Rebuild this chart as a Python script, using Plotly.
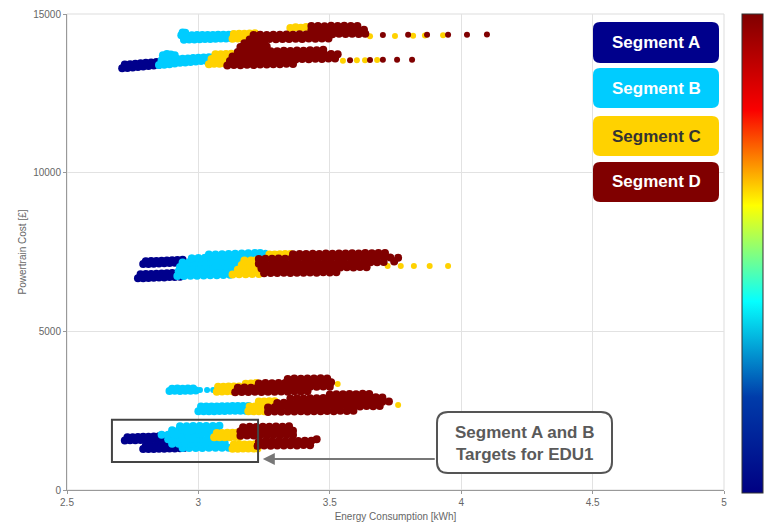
import plotly.graph_objects as go

# ---------------- data ----------------
seg_names = ["Segment A", "Segment B", "Segment C", "Segment D"]
seg_colors = ["#00008C", "#00CCFF", "#FFD200", "#800000"]

A_x = [
    2.710, 2.730, 2.750, 2.770, 2.790, 2.810, 2.830, 2.850,
    2.720, 2.740, 2.760, 2.780, 2.800, 2.820, 2.840,
    2.790, 2.810, 2.830, 2.850, 2.870, 2.890, 2.910, 2.930,
    2.800, 2.820, 2.840, 2.860, 2.880, 2.900, 2.920, 2.940,
    2.770, 2.790, 2.810, 2.830, 2.850, 2.870, 2.890, 2.910, 2.930,
    2.780, 2.800, 2.820, 2.840, 2.860, 2.880, 2.900, 2.920, 2.940,
    2.720, 2.740, 2.760, 2.780, 2.800, 2.820, 2.840, 2.860, 2.880,
    2.730, 2.750, 2.770, 2.790, 2.810, 2.830, 2.850, 2.870,
    2.790, 2.810, 2.830, 2.850, 2.870, 2.890, 2.910, 2.930, 2.945,
    2.800, 2.820, 2.840, 2.860, 2.880, 2.900, 2.920, 2.940,
]
A_y = [
    13290, 13300, 13315, 13330, 13345, 13360, 13380, 13400,
    13410, 13420, 13435, 13445, 13460, 13475, 13490,
    7120, 7125, 7130, 7140, 7145, 7150, 7160, 7165,
    7210, 7215, 7220, 7225, 7235, 7240, 7250, 7255,
    6670, 6675, 6680, 6690, 6695, 6700, 6710, 6715, 6720,
    6800, 6805, 6810, 6815, 6820, 6830, 6835, 6840, 6845,
    1560, 1565, 1570, 1575, 1580, 1590, 1595, 1600, 1605,
    1660, 1665, 1670, 1675, 1680, 1685, 1690, 1695,
    1290, 1290, 1295, 1300, 1300, 1305, 1310, 1315, 1320,
    1400, 1400, 1405, 1410, 1410, 1415, 1420, 1425,
]

B_x = [
    2.850, 2.870, 2.890, 2.910, 2.930, 2.950, 2.970, 2.990, 3.010, 3.030, 3.050,
    2.860, 2.880, 2.900, 2.920, 2.940, 2.960, 2.980, 3.000, 3.020, 3.040, 3.060,
    2.865, 2.880, 2.895, 2.910,
    2.945, 2.965, 2.985, 3.005, 3.025, 3.045, 3.065, 3.085, 3.105, 3.125,
    2.935, 2.955, 2.975, 2.995, 3.015, 3.035, 3.055, 3.075, 3.095, 3.115, 3.130,
    2.940, 2.950,
    2.920, 2.945, 2.970, 2.995, 3.020, 3.045, 3.070, 3.095, 3.120,
    2.925, 2.950, 2.975, 3.000, 3.025, 3.050, 3.075, 3.100, 3.125,
    2.930, 2.955, 2.980, 3.005, 3.030, 3.055, 3.080, 3.105, 3.130, 3.145,
    2.940, 2.965, 2.990, 3.015, 3.040, 3.065, 3.090, 3.115, 3.140, 3.155,
    2.975, 3.000, 3.025, 3.050, 3.075, 3.100, 3.125, 3.150, 3.175, 3.200, 3.220,
    3.040, 3.065, 3.090, 3.115, 3.140, 3.165, 3.190, 3.215, 3.235,
    2.890, 2.910, 2.930, 2.950, 2.970, 2.990,
    2.900, 2.920, 2.940, 2.960, 2.980,
    3.000, 3.020, 3.040, 3.060, 3.080, 3.100, 3.120, 3.140, 3.160, 3.180, 3.200,
    3.010, 3.030, 3.050, 3.070, 3.090, 3.110, 3.130, 3.150, 3.170, 3.190,
    2.940, 2.965, 2.990, 3.015, 3.040, 3.065, 3.090, 3.115,
    2.900, 2.925, 2.950, 2.975, 3.000, 3.025, 3.050, 3.075, 3.100,
    2.885, 2.910, 2.935, 2.960, 2.985, 3.010, 3.035, 3.060, 3.085,
    2.860, 2.885, 2.910, 2.935, 2.960, 2.985, 3.010, 3.035, 3.060, 3.080,
    2.900, 2.925, 2.950, 2.975, 3.000, 3.025, 3.050, 3.070,
    2.930, 2.955, 2.980, 3.005, 3.030, 3.055, 3.080,
]
B_y = [
    13390, 13400, 13420, 13440, 13460, 13470, 13490, 13500, 13520, 13530, 13550,
    13540, 13560, 13570, 13580, 13590, 13600, 13610, 13620, 13630, 13640, 13650,
    13700, 13740, 13720, 13700,
    14190, 14195, 14200, 14205, 14210, 14215, 14220, 14225, 14230, 14235,
    14330, 14330, 14330, 14335, 14335, 14340, 14340, 14345, 14345, 14350, 14350,
    14420, 14410,
    6740, 6745, 6750, 6755, 6760, 6765, 6770, 6775, 6780,
    6890, 6895, 6900, 6905, 6910, 6915, 6920, 6925, 6930,
    7030, 7035, 7040, 7045, 7050, 7055, 7060, 7065, 7070, 7075,
    7170, 7175, 7180, 7185, 7190, 7195, 7200, 7205, 7210, 7215,
    7300, 7310, 7320, 7330, 7335, 7340, 7345, 7350, 7360, 7365, 7370,
    7420, 7425, 7430, 7440, 7445, 7450, 7460, 7465, 7470,
    3120, 3125, 3120, 3130, 3125, 3135,
    3190, 3195, 3190, 3200, 3195,
    2480, 2480, 2485, 2485, 2490, 2490, 2495, 2495, 2500, 2500, 2505,
    2630, 2630, 2635, 2635, 2640, 2640, 2645, 2645, 2650, 2650,
    1320, 1320, 1325, 1325, 1330, 1330, 1335, 1335,
    1460, 1460, 1465, 1465, 1470, 1470, 1475, 1475, 1480,
    1600, 1600, 1605, 1605, 1610, 1610, 1615, 1615, 1620,
    1740, 1740, 1745, 1745, 1750, 1750, 1755, 1755, 1760, 1760,
    1880, 1880, 1885, 1885, 1890, 1890, 1895, 1895,
    2010, 2010, 2015, 2015, 2020, 2020, 2025,
]
# sparse isolated designs (tails)
B_tail_x = [3.255, 3.006, 3.033, 3.056]
B_tail_y = [7480, 3150, 3150, 3155]

C_x = [
    3.040, 3.060, 3.080, 3.100, 3.120,
    3.050, 3.070, 3.090, 3.110, 3.130,
    3.065, 3.085, 3.105, 3.125,
    3.130, 3.150, 3.170, 3.190, 3.210,
    3.135, 3.155, 3.175, 3.195, 3.215,
    3.350, 3.370, 3.390, 3.410,
    3.130, 3.155, 3.180, 3.205, 3.230,
    3.150, 3.175, 3.200, 3.225,
    3.165, 3.190, 3.215,
    3.175, 3.200, 3.220,
    3.270, 3.290, 3.310, 3.330, 3.350,
    3.275, 3.300, 3.325,
    3.070, 3.090, 3.110, 3.130, 3.150,
    3.075, 3.095, 3.115, 3.135, 3.155,
    3.180, 3.200, 3.220,
    3.190, 3.210, 3.230, 3.250,
    3.195, 3.215, 3.235, 3.255,
    3.230, 3.250, 3.270, 3.290,
    3.060, 3.080, 3.100, 3.120, 3.140, 3.155,
    3.070, 3.090, 3.110, 3.130, 3.150,
    3.130, 3.150, 3.170, 3.190, 3.210, 3.225,
    3.135, 3.155, 3.175, 3.195, 3.215,
]
C_y = [
    13420, 13430, 13430, 13440, 13440,
    13580, 13585, 13590, 13595, 13600,
    13730, 13735, 13740, 13745,
    14220, 14225, 14230, 14235, 14240,
    14370, 14375, 14380, 14385, 14390,
    14560, 14580, 14570, 14590,
    6790, 6795, 6800, 6805, 6810,
    6940, 6945, 6950, 6955,
    7090, 7095, 7100,
    7230, 7235, 7240,
    7420, 7425, 7430, 7435, 7440,
    7320, 7325, 7330,
    3100, 3105, 3110, 3110, 3115,
    3250, 3255, 3260, 3260, 3265,
    3350, 3360, 3370,
    2480, 2480, 2485, 2485,
    2630, 2630, 2635, 2635,
    2790, 2790, 2795, 2800,
    1660, 1660, 1665, 1665, 1670, 1670,
    1800, 1800, 1805, 1805, 1810,
    1300, 1300, 1305, 1305, 1310, 1310,
    1430, 1430, 1435, 1435, 1440,
]
C_tail_x = [3.653, 3.748, 3.817, 3.862, 3.931,
            3.550, 3.603, 3.634, 3.680,
            3.720, 3.770, 3.820, 3.880, 3.950,
            3.530, 3.760]
C_tail_y = [14300, 14310, 14315, 14320, 14330,
            13530, 13540, 13540, 13550,
            7060, 7060, 7060, 7055, 7055,
            3340, 2680]

D_x = [
    # top group, lower band
    3.110, 3.135, 3.160, 3.185, 3.210, 3.235, 3.260, 3.285, 3.310, 3.335, 3.360,
    3.120, 3.145, 3.170, 3.195, 3.220, 3.245, 3.270, 3.295, 3.320, 3.345, 3.370, 3.395, 3.420, 3.445, 3.470, 3.495, 3.520,
    3.130, 3.155, 3.180, 3.205, 3.230, 3.255, 3.280, 3.305, 3.330, 3.355, 3.380, 3.405, 3.430, 3.455, 3.480, 3.505, 3.530,
    3.150, 3.175, 3.200, 3.225, 3.250, 3.275, 3.300, 3.325, 3.350, 3.375, 3.400, 3.425, 3.450, 3.475,
    3.160, 3.185, 3.210, 3.235, 3.260,
    3.175, 3.200, 3.225, 3.250,
    # top group, upper band
    3.195, 3.220, 3.245, 3.270, 3.295, 3.320, 3.345, 3.370, 3.395, 3.420, 3.445, 3.470, 3.495,
    3.210, 3.235, 3.260, 3.285, 3.310, 3.335, 3.360, 3.385, 3.410, 3.435, 3.460, 3.485, 3.510, 3.535, 3.560, 3.585, 3.610, 3.635,
    3.430, 3.455, 3.480, 3.505, 3.530, 3.555, 3.580, 3.605, 3.630,
    3.430, 3.455, 3.480, 3.505, 3.530, 3.555, 3.580, 3.605,
    # middle group
    3.360, 3.385, 3.410, 3.435, 3.460, 3.485, 3.510, 3.535, 3.560, 3.585, 3.610, 3.635, 3.660, 3.685, 3.710,
    3.230, 3.255, 3.280, 3.305, 3.330, 3.355, 3.380, 3.405, 3.430, 3.455, 3.480, 3.505, 3.530, 3.555, 3.580, 3.605, 3.630, 3.655, 3.680, 3.705, 3.730,
    3.230, 3.255, 3.280, 3.305, 3.330, 3.355, 3.380, 3.405, 3.430, 3.455, 3.480, 3.505, 3.530, 3.555, 3.580, 3.605, 3.630, 3.655, 3.680, 3.705,
    3.240, 3.265, 3.290, 3.315, 3.340, 3.365, 3.390, 3.415, 3.440, 3.465, 3.490, 3.515, 3.540, 3.565, 3.590, 3.615, 3.640,
    3.250, 3.275, 3.300, 3.325, 3.350, 3.375, 3.400, 3.425, 3.450, 3.475, 3.500, 3.525,
    3.745, 3.760,
    # bottom group, row ~3200
    3.140, 3.165, 3.190, 3.215, 3.240, 3.265, 3.290, 3.315, 3.340, 3.365, 3.390, 3.415,
    3.150, 3.175, 3.200, 3.225, 3.250, 3.275, 3.300, 3.325, 3.350, 3.375, 3.400, 3.425, 3.450, 3.475, 3.500,
    3.230, 3.255, 3.280, 3.305, 3.330, 3.355, 3.380, 3.405, 3.430, 3.455, 3.480, 3.505,
    3.340, 3.365, 3.390, 3.415, 3.440, 3.465, 3.490,
    # bottom group, row ~2700
    3.265, 3.290, 3.315, 3.340, 3.365, 3.390, 3.415, 3.440, 3.465, 3.490, 3.515, 3.540, 3.565, 3.590,
    3.265, 3.290, 3.315, 3.340, 3.365, 3.390, 3.415, 3.440, 3.465, 3.490, 3.515, 3.540, 3.565, 3.590, 3.615, 3.640, 3.665, 3.690,
    3.300, 3.325, 3.350, 3.375, 3.400, 3.425, 3.450, 3.475, 3.500, 3.525, 3.550, 3.575, 3.600, 3.625, 3.650, 3.675, 3.700, 3.725,
    3.350, 3.375, 3.400, 3.425, 3.450, 3.475, 3.500, 3.525, 3.550, 3.575, 3.600, 3.625, 3.650, 3.675, 3.700,
    3.500, 3.525, 3.550, 3.575, 3.600, 3.625, 3.650,
    # bottom group, rows ~1300-2100
    3.160, 3.185, 3.210, 3.235, 3.260, 3.285, 3.310, 3.335, 3.360,
    3.160, 3.185, 3.210, 3.235, 3.260, 3.285, 3.310, 3.335, 3.360,
    3.170, 3.195, 3.220, 3.245, 3.270, 3.295, 3.320, 3.345,
    3.225, 3.250, 3.275, 3.300, 3.325, 3.350, 3.375, 3.400, 3.425,
    3.230, 3.255, 3.280, 3.305, 3.330, 3.355, 3.380, 3.405, 3.430,
    3.450,
]
D_y = [
    13380, 13390, 13385, 13400, 13395, 13410, 13405, 13420, 13415, 13430, 13425,
    13520, 13530, 13525, 13540, 13535, 13550, 13545, 13560, 13555, 13570, 13565, 13580, 13575, 13590, 13585, 13600, 13595,
    13660, 13670, 13665, 13680, 13675, 13690, 13685, 13700, 13695, 13710, 13705, 13720, 13715, 13730, 13725, 13740, 13735,
    13800, 13810, 13805, 13820, 13815, 13830, 13825, 13840, 13835, 13850, 13845, 13860, 13855, 13870,
    13960, 13970, 13965, 13980, 13975,
    14080, 14090, 14085, 14095,
    14200, 14205, 14200, 14210, 14205, 14215, 14210, 14220, 14215, 14225, 14220, 14230, 14225,
    14340, 14345, 14340, 14350, 14345, 14355, 14350, 14360, 14355, 14365, 14360, 14370, 14365, 14375, 14370, 14375, 14370, 14375,
    14490, 14495, 14490, 14500, 14495, 14505, 14500, 14505, 14500,
    14620, 14625, 14615, 14630, 14620, 14630, 14625, 14620,
    7430, 7440, 7435, 7445, 7440, 7450, 7445, 7455, 7450, 7460, 7455, 7465, 7460, 7470, 7465,
    7280, 7290, 7285, 7295, 7290, 7300, 7295, 7305, 7300, 7310, 7305, 7315, 7310, 7320, 7315, 7325, 7320, 7330, 7325, 7335, 7330,
    7130, 7140, 7135, 7145, 7140, 7150, 7145, 7155, 7150, 7160, 7155, 7165, 7160, 7170, 7165, 7175, 7170, 7180, 7175, 7185,
    6980, 6990, 6985, 6995, 6990, 7000, 6995, 7005, 7000, 7010, 7005, 7015, 7010, 7020, 7015, 7025, 7020,
    6830, 6840, 6835, 6845, 6840, 6850, 6845, 6855, 6850, 6860, 6855, 6865,
    7200, 7320,
    3080, 3090, 3085, 3095, 3090, 3100, 3095, 3105, 3100, 3110, 3105, 3115,
    3220, 3230, 3225, 3235, 3230, 3240, 3235, 3245, 3240, 3250, 3245, 3255, 3250, 3260, 3255,
    3360, 3370, 3365, 3375, 3370, 3380, 3375, 3385, 3380, 3390, 3385, 3395,
    3500, 3510, 3505, 3515, 3510, 3520, 3515,
    2460, 2470, 2465, 2475, 2470, 2480, 2475, 2485, 2480, 2490, 2485, 2495, 2490, 2500,
    2600, 2610, 2605, 2615, 2610, 2620, 2615, 2625, 2620, 2630, 2625, 2635, 2630, 2640, 2635, 2645, 2640, 2650,
    2740, 2750, 2745, 2755, 2750, 2760, 2755, 2765, 2760, 2770, 2765, 2775, 2770, 2780, 2775, 2785, 2780, 2790,
    2880, 2890, 2885, 2895, 2890, 2900, 2895, 2905, 2900, 2910, 2905, 2915, 2910, 2920, 2915,
    3010, 3020, 3015, 3025, 3020, 3030, 3025,
    1710, 1720, 1715, 1725, 1720, 1730, 1725, 1735, 1730,
    1850, 1860, 1855, 1865, 1860, 1870, 1865, 1875, 1870,
    1980, 1990, 1985, 1995, 1990, 2000, 1995, 2005,
    1390, 1400, 1395, 1405, 1400, 1410, 1405, 1415, 1410,
    1530, 1540, 1535, 1545, 1540, 1550, 1545, 1555, 1550,
    1600,
]
D_tail_x = [3.577, 3.653, 3.702, 3.756, 3.813,
            3.702, 3.798, 3.870, 3.950, 4.022, 4.098]
D_tail_y = [13545, 13550, 13555, 13560, 13560,
            14340, 14345, 14345, 14350, 14350, 14355]

x_ticks = [2.5, 3, 3.5, 4, 4.5, 5]
x_ticktext = ["2.5", "3", "3.5", "4", "4.5", "5"]
y_ticks = [0, 5000, 10000, 15000]
y_ticktext = ["0", "5000", "10000", "15000"]

series = [(A_x, A_y), (B_x, B_y), (C_x, C_y), (D_x, D_y)]
tails = [([], []), (B_tail_x, B_tail_y), (C_tail_x, C_tail_y), (D_tail_x, D_tail_y)]
for sx, sy in series + tails:
    assert len(sx) == len(sy), (len(sx), len(sy))

# ---------------- figure ----------------
W, H = 765, 525
ML, MR, MT, MB = 67, 41, 14, 35
PW, PH = W - ML - MR, H - MT - MB


def px(xp):
    return (xp - ML) / PW


def py(yp):
    return (H - MB - yp) / PH


def rounded(x0, y0, x1, y1, r):
    # pixel rectangle -> paper path with rounded corners
    X0, X1 = px(x0), px(x1)
    Y0, Y1 = py(y1), py(y0)
    rx, ry = r / PW, r / PH
    return (f"M {X0+rx},{Y0} L {X1-rx},{Y0} Q {X1},{Y0} {X1},{Y0+ry} "
            f"L {X1},{Y1-ry} Q {X1},{Y1} {X1-rx},{Y1} L {X0+rx},{Y1} "
            f"Q {X0},{Y1} {X0},{Y1-ry} L {X0},{Y0+ry} Q {X0},{Y0} {X0+rx},{Y0} Z")


FONT = "Liberation Sans, Arial, sans-serif"
fig = go.Figure()

for (sx, sy), (tx, ty), name, col in zip(series, tails, seg_names, seg_colors):
    fig.add_trace(go.Scatter(
        x=sx, y=sy, mode="markers", name=name, showlegend=False,
        marker=dict(size=8, color=col, line=dict(width=0)),
    ))
    if tx:
        fig.add_trace(go.Scatter(
            x=tx, y=ty, mode="markers", name=name, showlegend=False,
            marker=dict(size=6, color=col, line=dict(width=0)),
        ))

# colour bar (jet)
fig.add_trace(go.Scatter(
    x=[None], y=[None], mode="markers", showlegend=False, hoverinfo="skip",
    marker=dict(color=[0], cmin=0, cmax=1, colorscale="Jet", showscale=True,
                colorbar=dict(x=1.027, xanchor="left", xpad=0, ypad=0,
                              thickness=21, lenmode="pixels", len=479,
                              y=0.497, yanchor="middle",
                              outlinewidth=1, outlinecolor="#333333",
                              ticks="", showticklabels=False)),
))

shapes = []
annotations = []

# light frame (top / right)
shapes.append(dict(type="rect", xref="paper", yref="paper", x0=0, y0=0, x1=1, y1=1,
                   line=dict(color="#dddddd", width=1), layer="below"))

# legend boxes
legend_boxes = [(22, 63), (68, 108), (116, 156), (162, 202)]
legend_text_col = ["white", "white", "#333333", "white"]
for (y0, y1), name, col, tcol in zip(legend_boxes, seg_names, seg_colors, legend_text_col):
    shapes.append(dict(type="path", xref="paper", yref="paper",
                       path=rounded(593, y0, 719, y1, 7),
                       fillcolor=col, line=dict(width=0)))
    annotations.append(dict(xref="paper", yref="paper", x=px(656), y=py((y0 + y1) / 2),
                            xanchor="center", yanchor="middle",
                            text=f"<b>{name}</b>", showarrow=False,
                            font=dict(family=FONT, size=17, color=tcol)))

# target box around segment A & B of EDU1
shapes.append(dict(type="rect", xref="x", yref="y", x0=2.671, x1=3.227, y0=880, y1=2210,
                   line=dict(color="#444444", width=2)))

# callout box
shapes.append(dict(type="path", xref="paper", yref="paper",
                   path=rounded(437, 412, 612, 473, 11),
                   fillcolor="white", line=dict(color="#555555", width=2)))
annotations.append(dict(xref="paper", yref="paper", x=px(524.5), y=py(443),
                        xanchor="center", yanchor="middle",
                        text="<b>Segment A and B<br>Targets for EDU1</b>", showarrow=False,
                        font=dict(family=FONT, size=17, color="#5a5a5a")))

# arrow
annotations.append(dict(xref="x", yref="y", x=3.245, y=980, axref="x", ayref="y",
                        ax=3.905, ay=980, text="", showarrow=True, arrowhead=2,
                        arrowsize=1.2, arrowwidth=2, arrowcolor="#777777", standoff=0))

fig.update_layout(
    width=W, height=H,
    margin=dict(l=ML, r=MR, t=MT, b=MB, autoexpand=False),
    paper_bgcolor="white", plot_bgcolor="white",
    font=dict(family=FONT, size=10, color="#666666"),
    shapes=shapes, annotations=annotations,
    xaxis=dict(range=[2.5, 5], tickvals=x_ticks, ticktext=x_ticktext,
               showgrid=True, gridcolor="#e2e2e2", gridwidth=1, zeroline=False,
               showline=True, linecolor="#999999", linewidth=1,
               ticks="outside", ticklen=3, tickcolor="#999999",
               tickfont=dict(size=10, color="#666666"),
               title=dict(text="Energy Consumption [kWh]", standoff=5,
                          font=dict(size=10, color="#666666"))),
    yaxis=dict(range=[0, 15000], tickvals=y_ticks, ticktext=y_ticktext,
               showgrid=True, gridcolor="#e2e2e2", gridwidth=1, zeroline=False,
               showline=True, linecolor="#999999", linewidth=1,
               ticks="outside", ticklen=3, tickcolor="#999999",
               tickfont=dict(size=10, color="#666666"),
               title=dict(text="Powertrain Cost [£]", standoff=4,
                          font=dict(size=10, color="#666666"))),
)

fig.write_html("out.html")
